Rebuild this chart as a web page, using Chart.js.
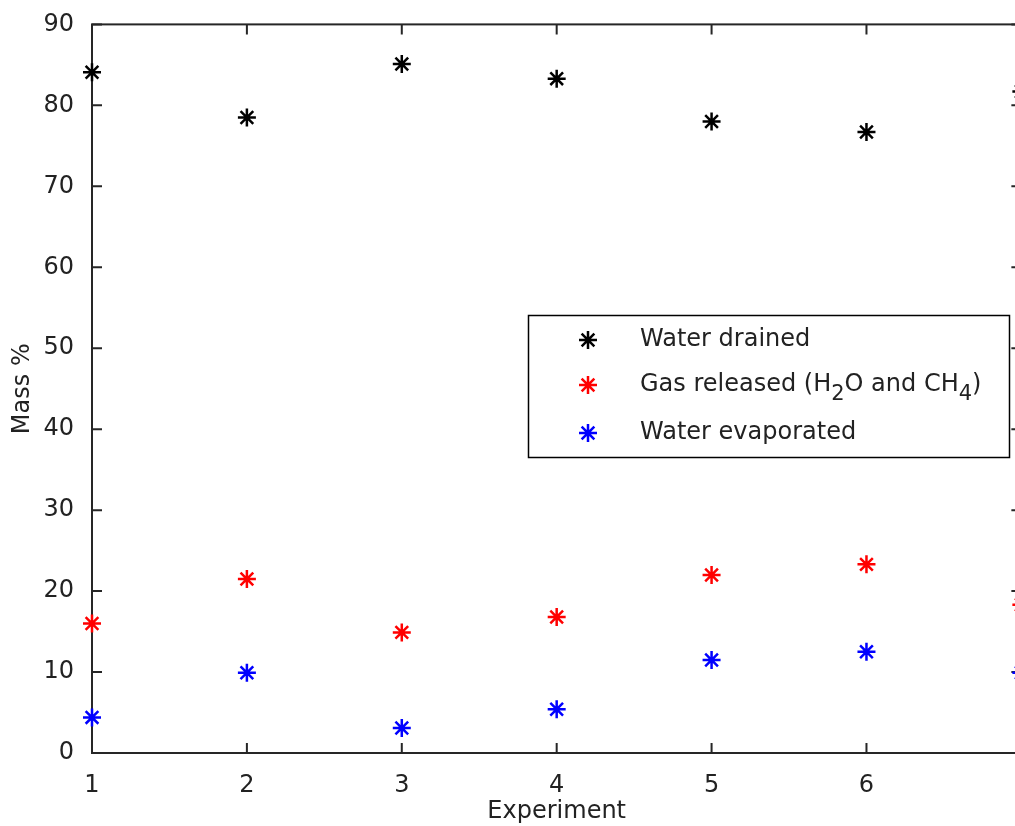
<!DOCTYPE html>
<html>
<head>
<meta charset="utf-8">
<script src="https://cdn.jsdelivr.net/npm/chart.js@4"></script>
<style>
  html, body { margin: 0; padding: 0; background: #fff; overflow: hidden; }
  #wrap { position: relative; width: 1039px; height: 826px; }
</style>
</head>
<body>
<div id="wrap"><canvas id="massChart"></canvas></div>
<script>
// values (x = 7 sits just past the right edge of the picture)
const experiments = [1, 2, 3, 4, 5, 6, 7];
const waterDrained = [84.1, 78.5, 85.1, 83.3, 78.0, 76.7, 81.7];
const gasReleased = [16.0, 21.5, 14.9, 16.8, 22.0, 23.3, 18.3];
const waterEvaporated = [4.4, 9.9, 3.1, 5.4, 11.5, 12.5, 9.9];

const seriesNames = ["Water drained", "Gas released (H_2O and CH_4)", "Water evaporated"];
const seriesColors = ["#000000", "#ff0000", "#0000ff"];

const xTicks = [1, 2, 3, 4, 5, 6, 7];
const yTicks = [0, 10, 20, 30, 40, 50, 60, 70, 80, 90];

const fontFamily = "'DejaVu Sans', 'Liberation Sans', Arial, sans-serif";
const textColor = "#222";

const toPoints = vals => experiments.map((e, i) => ({ x: e, y: vals[i] }));

// box + inward ticks on all four sides, like a matlab axes
const matlabAxes = {
  id: "matlabAxes",
  beforeDatasetsDraw(chart) {
    const { ctx, chartArea: a, scales } = chart;
    const tickLen = 10;
    ctx.save();
    ctx.strokeStyle = "#262626";
    ctx.lineWidth = 2;
    ctx.strokeRect(a.left, a.top, a.right - a.left, a.bottom - a.top);
    ctx.beginPath();
    scales.x.ticks.forEach(t => {
      const px = scales.x.getPixelForValue(t.value);
      ctx.moveTo(px, a.bottom); ctx.lineTo(px, a.bottom - tickLen);
      ctx.moveTo(px, a.top); ctx.lineTo(px, a.top + tickLen);
    });
    scales.y.ticks.forEach(t => {
      const py = scales.y.getPixelForValue(t.value);
      ctx.moveTo(a.left, py); ctx.lineTo(a.left + tickLen, py);
      ctx.moveTo(a.right, py); ctx.lineTo(a.right - tickLen, py);
    });
    ctx.stroke();
    ctx.restore();
  }
};

// legend box inside the plot, with subscripts in the gas label
const boxLegend = {
  id: "boxLegend",
  afterDraw(chart) {
    const ctx = chart.ctx;
    const rows = [340, 385, 433];
    ctx.save();
    ctx.fillStyle = "#fff";
    ctx.fillRect(528, 315, 482, 143);
    ctx.strokeStyle = "#000";
    ctx.lineWidth = 1.5;
    ctx.strokeRect(528.5, 315.5, 481, 142);

    chart.data.datasets.forEach((ds, i) => {
      ctx.strokeStyle = ds.borderColor;
      ctx.lineWidth = 2.5;
      Chart.helpers.drawPoint(ctx, { pointStyle: "star", radius: 9, rotation: 0, borderWidth: 2.5 }, 588, rows[i]);

      ctx.fillStyle = textColor;
      ctx.textBaseline = "middle";
      ctx.textAlign = "left";
      let x = 640;
      ds.label.split(/(_\d)/).forEach(part => {
        if (!part) return;
        if (part[0] === "_") {
          ctx.font = "21px " + fontFamily;
          ctx.fillText(part.slice(1), x, rows[i] + 10);
          x += ctx.measureText(part.slice(1)).width;
        } else {
          ctx.font = "24px " + fontFamily;
          ctx.fillText(part, x, rows[i]);
          x += ctx.measureText(part).width;
        }
      });
    });
    ctx.restore();
  }
};

const ctx = document.getElementById("massChart");

new Chart(ctx, {
  type: "scatter",
  data: {
    datasets: [waterDrained, gasReleased, waterEvaporated].map((vals, i) => ({
      label: seriesNames[i],
      data: toPoints(vals),
      borderColor: seriesColors[i],
      backgroundColor: seriesColors[i],
      pointStyle: "star",
      pointRadius: 9,
      pointBorderWidth: 2.5,
      clip: false
    }))
  },
  options: {
    responsive: true,
    maintainAspectRatio: false,
    animation: false,
    layout: { padding: { top: 23, right: 14, left: 0, bottom: 0 } },
    plugins: {
      legend: { display: false },
      tooltip: { enabled: false }
    },
    scales: {
      x: {
        type: "linear",
        min: 1,
        max: 7,
        grid: { display: false },
        border: { display: false },
        afterBuildTicks: s => { s.ticks = xTicks.map(v => ({ value: v })); },
        ticks: { padding: 10, color: textColor, font: { family: fontFamily, size: 24 } },
        title: {
          display: true,
          text: "Experiment",
          color: textColor,
          font: { family: fontFamily, size: 24 },
          padding: { top: 0, bottom: 0 }
        },
        afterFit: s => { s.height = 73; }
      },
      y: {
        min: 0,
        max: 90,
        grid: { display: false },
        border: { display: false },
        afterBuildTicks: s => { s.ticks = yTicks.map(v => ({ value: v })); },
        ticks: { padding: 10, color: textColor, font: { family: fontFamily, size: 24 } },
        title: {
          display: true,
          text: "Mass %",
          color: textColor,
          font: { family: fontFamily, size: 24 },
          padding: { top: 8, bottom: 0 }
        },
        afterFit: s => { s.width = 92; }
      }
    }
  },
  plugins: [matlabAxes, boxLegend]
});
</script>
</body>
</html>
